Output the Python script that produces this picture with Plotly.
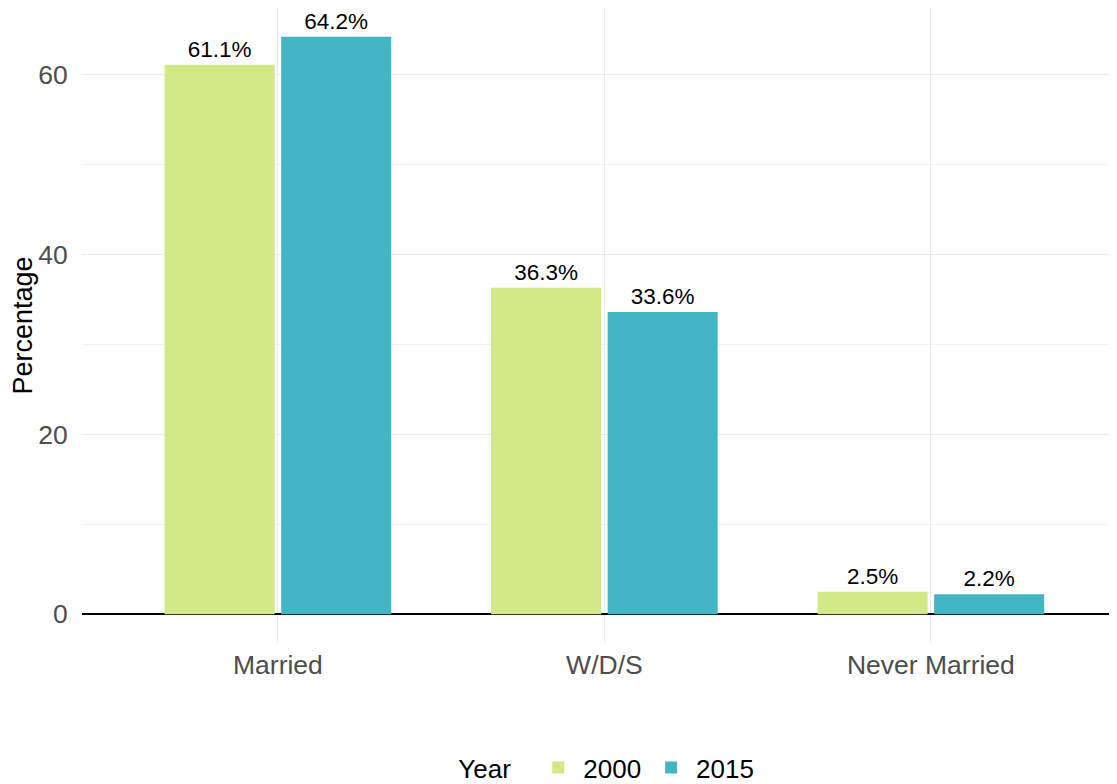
import plotly.graph_objects as go

categories = ["Married", "W/D/S", "Never Married"]
years = ["2000", "2015"]
values_2000 = [61.1, 36.3, 2.5]
values_2015 = [64.2, 33.6, 2.2]
colors = {"2000": "#D1E986", "2015": "#42B6C5"}

fig = go.Figure()
for yr, vals in zip(years, [values_2000, values_2015]):
    fig.add_trace(go.Bar(
        x=categories, y=vals, name=yr,
        marker=dict(color=colors[yr], line=dict(width=0)),
        text=[f"{v:.1f}%" for v in vals],
        textposition="outside",
        textfont=dict(size=22.5, color="black", family="Liberation Sans"),
        cliponaxis=False,
    ))

fig.update_layout(
    width=1109, height=776,
    barmode="group", bargap=0.286, bargroupgap=0.056,
    plot_bgcolor="white", paper_bgcolor="white",
    margin=dict(l=74, r=0, t=0, b=141, autoexpand=False),
    font=dict(family="Liberation Sans", color="#4d4d4d"),
    showlegend=True,
    legend=dict(
        orientation="h", xref="paper", x=0.508, xanchor="center",
        yref="container", y=0.021, yanchor="middle",
        title=dict(text="Year  ", font=dict(size=26, color="black")),
        font=dict(size=26, color="black"),
        itemwidth=40,
    ),
)
fig.update_xaxes(
    range=[-0.6, 2.57],
    showgrid=True, gridcolor="#ebebeb", gridwidth=1.2,
    ticks="", ticklabelstandoff=3,
    tickfont=dict(size=26.5, color="#4d4d4d"),
    showline=False, zeroline=False,
)
fig.update_yaxes(
    range=[-3.21, 67.41],
    tickvals=[0, 20, 40, 60],
    showgrid=True, gridcolor="#ebebeb", gridwidth=1.2,
    minor=dict(tickvals=[10, 30, 50], showgrid=True, gridcolor="#f3f3f3", gridwidth=0.8),
    zeroline=True, zerolinecolor="black", zerolinewidth=1.6,
    ticks="outside", ticklen=8, tickcolor="rgba(0,0,0,0)",
    tickfont=dict(size=26.5, color="#4d4d4d"),
    title=dict(text="Percentage", font=dict(size=27, color="black"), standoff=6),
)

fig.write_html("out.html")
